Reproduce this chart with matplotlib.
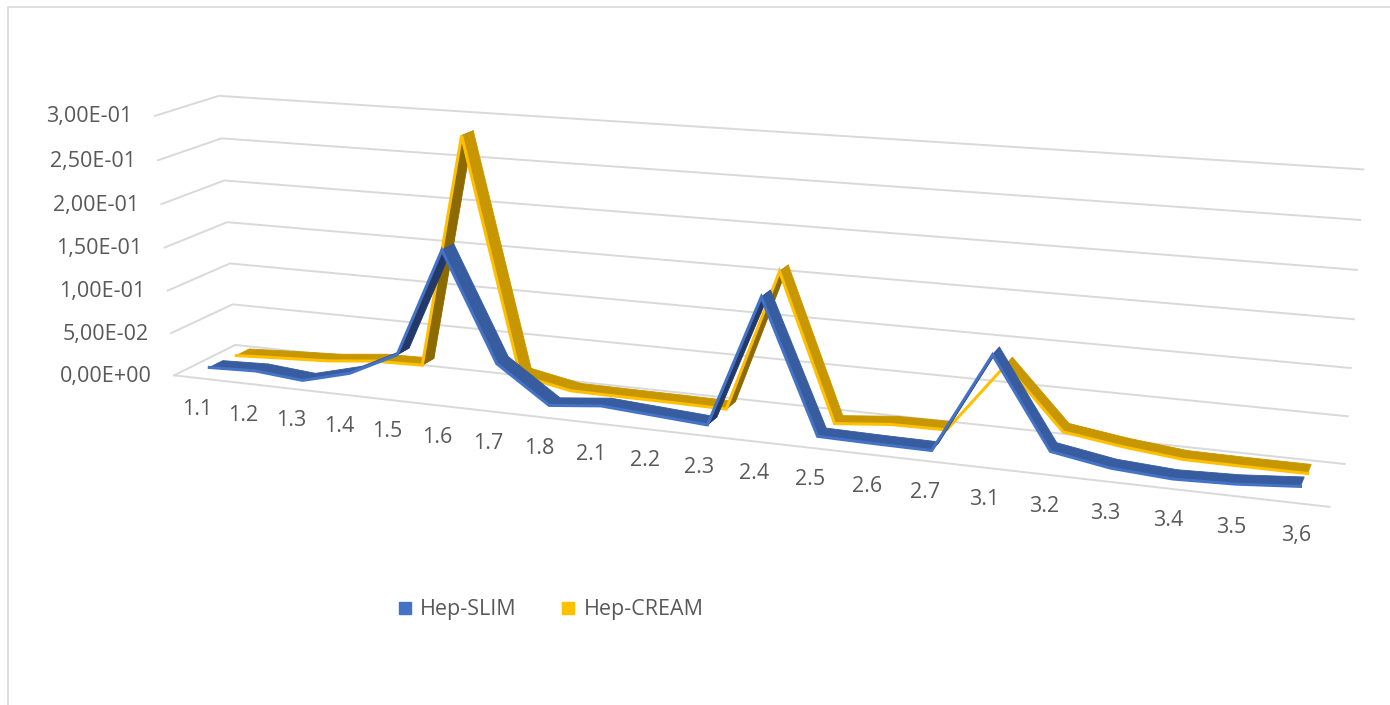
import numpy as np
import matplotlib
matplotlib.use('Agg')
import matplotlib.pyplot as plt
from matplotlib.lines import Line2D
from matplotlib.patches import Rectangle
from matplotlib.transforms import offset_copy
from mpl_toolkits.mplot3d import proj3d
from mpl_toolkits.mplot3d.art3d import Poly3DCollection

# ---------------- data ----------------
categories = ['1.1', '1.2', '1.3', '1.4', '1.5', '1.6', '1.7', '1.8',
              '2.1', '2.2', '2.3', '2.4', '2.5', '2.6', '2.7',
              '3.1', '3.2', '3.3', '3.4', '3.5', '3,6']
hep_slim = [0.005, 0.007, 0.002, 0.0165, 0.044, 0.168, 0.046, 0.005,
            0.011, 0.007, 0.003, 0.148, 0.004, 0.003, 0.0025,
            0.110, 0.0155, 0.005, 0.001, 0.003, 0.008]
hep_cream = [0.003, 0.006, 0.0086, 0.0145, 0.0157, 0.283, 0.016, 0.0045,
             0.004, 0.0037, 0.003, 0.161, 0.0, 0.0058, 0.0065,
             0.083, 0.018, 0.009, 0.0025, 0.002, 0.002]
y_ticks = [0.0, 0.05, 0.10, 0.15, 0.20, 0.25, 0.30]
y_tick_labels = ['0,00E+00', '5,00E-02', '1,00E-01', '1,50E-01',
                 '2,00E-01', '2,50E-01', '3,00E-01']
series_names = ['Hep-SLIM', 'Hep-CREAM']

plt.rcParams['font.family'] = ['Open Sans', 'DejaVu Sans']

W, H = 1390, 705
fig = plt.figure(figsize=(W / 100, H / 100), dpi=100)
fig.patch.set_facecolor('white')

# square 3D axes, placed so that the box centre lands where the reference has it
S = 1528
cx, cy = 719, 281
left = cx - 0.5135 * S
bottom = (H - cy) - 0.5135 * S
ax = fig.add_axes([left / W, bottom / H, S / W, S / H], projection='3d',
                  computed_zorder=False)
ax.set_proj_type('persp', focal_length=0.28)
ax.view_init(elev=15, azim=-69, roll=0.6)
n = len(categories)
DEPTH = 2.0
ZMAX = 0.3
ax.set_xlim(0, n)
ax.set_ylim(0, DEPTH)
ax.set_zlim(0, ZMAX)
ax.set_box_aspect((1, 0.10, 0.234), zoom=0.8)
ax.set_axis_off()
ax.patch.set_visible(False)

# ---------------- walls / gridlines ----------------
grid_kw = dict(color='#D9D9D9', lw=1.4, clip_on=False, zorder=1)
for z in y_ticks:
    ax.plot([0, 0, n], [0, DEPTH, DEPTH], [z, z, z], **grid_kw)
ax.plot([0, n], [0, 0], [0, 0], **grid_kw)

# ---------------- ribbons ----------------
M = ax.get_proj()
xs = np.arange(n) + 0.5


def ribbon(vals, y0, y1, main, dark, edge, zo):
    vals = np.asarray(vals, dtype=float)
    polys, cols = [], []
    for i in range(n - 1):
        quad = [(xs[i], y0, vals[i]), (xs[i + 1], y0, vals[i + 1]),
                (xs[i + 1], y1, vals[i + 1]), (xs[i], y1, vals[i])]
        qx, qy, qz = np.array(quad).T
        px, py, _ = proj3d.proj_transform(qx, qy, qz, M)
        area = 0.5 * np.sum(px * np.roll(py, -1) - np.roll(px, -1) * py)
        polys.append(quad)
        cols.append(main if area > 0 else dark)
    pc = Poly3DCollection(polys, facecolors=cols, edgecolors=cols,
                          linewidths=0.6)
    pc.set_zorder(zo)
    pc.set_clip_on(False)
    ax.add_collection3d(pc, autolim=False)
    ax.plot(xs, [y0] * n, vals, color=edge, lw=2.2, clip_on=False,
            zorder=zo + 0.1, solid_joinstyle='miter')


ribbon(hep_cream, 1.28, 1.72, '#C89700', '#8C6A00', '#FFC000', 2)
ribbon(hep_slim, 0.40, 0.84, '#375C9F', '#22396A', '#4472C4', 3)

ax.set_xlim(0, n)
ax.set_ylim(0, DEPTH)
ax.set_zlim(0, ZMAX)

# ---------------- labels (placed at projected axis positions) ----------------
txt_kw = dict(color='#595959', fontsize=15.5)
px, py, _ = proj3d.proj_transform(xs, np.zeros(n), np.zeros(n), M)
xlab_tr = offset_copy(ax.transData, fig=fig, x=0, y=-32, units='dots')
for i, c in enumerate(categories):
    ax.text2D(px[i], py[i], c, ha='center', va='center', transform=xlab_tr,
              **txt_kw)
zt = np.asarray(y_ticks, dtype=float)
qx, qy, _ = proj3d.proj_transform(np.zeros(len(zt)), np.zeros(len(zt)), zt, M)
ylab_tr = offset_copy(ax.transData, fig=fig, x=-22, y=-1, units='dots')
for i, lab in enumerate(y_tick_labels):
    ax.text2D(qx[i], qy[i], lab, ha='right', va='center', transform=ylab_tr,
              **txt_kw)

# ---------------- legend ----------------
handles = [Line2D([], [], marker='s', ls='none', markersize=9,
                  markerfacecolor=c, markeredgecolor=c)
           for c in ['#4472C4', '#FFC000']]
fig.legend(handles, series_names, loc='center',
           bbox_to_anchor=(550 / W, 1 - 610 / H), ncol=2, frameon=False,
           fontsize=15.5, labelcolor='#595959', handlelength=0.8,
           handletextpad=0.3, columnspacing=2.0)

# chart-area border
fig.patches.append(Rectangle((8 / W, -0.05), 1.2, 1 - 7 / H + 0.05,
                             transform=fig.transFigure, fill=False,
                             edgecolor='#D9D9D9', lw=1.2))

fig.savefig('out.png', dpi=100)
